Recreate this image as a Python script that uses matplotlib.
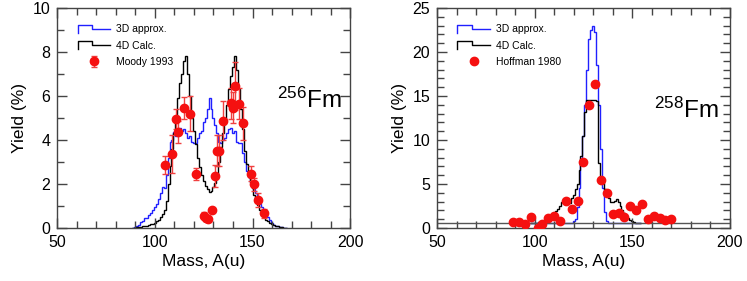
import numpy as np
import matplotlib
matplotlib.use("Agg")
import matplotlib.pyplot as plt
from matplotlib.legend_handler import HandlerBase
from matplotlib.lines import Line2D
from matplotlib.ticker import MultipleLocator

plt.rcParams['font.family'] = ['Liberation Sans', 'DejaVu Sans']
plt.rcParams['mathtext.default'] = 'regular'

# ---- 256Fm : mass bins 89..167 ----
a_256 = list(range(89, 168))
calc3d_256 = [0.0, 0.05, 0.1, 0.15, 0.28, 0.3, 0.44, 0.45, 0.6, 0.68,
              0.8, 0.95, 1.1, 1.3, 1.6, 1.85, 1.8, 2.4, 3.2, 3.9,
              4.0, 4.35, 4.2, 4.5, 4.55, 4.4, 4.5, 4.3, 4.1, 4.2,
              3.9, 3.85, 3.85, 4.1, 4.3, 4.4, 4.8, 5.0, 5.4, 5.9,
              5.4, 5.0, 4.7, 4.3, 3.9, 3.85, 4.0, 4.1, 4.3, 4.5,
              4.55, 4.3, 4.4, 3.9, 3.85, 3.85, 3.4, 3.0, 2.6, 2.3,
              2.1, 1.9, 1.75, 1.6, 1.4, 1.1, 0.95, 0.75, 0.6, 0.5,
              0.35, 0.25, 0.15, 0.1, 0.08, 0.05, 0.03, 0.02, 0.0]
calc4d_256 = [0.0, 0.02, 0.03, 0.04, 0.05, 0.07, 0.09, 0.11, 0.14, 0.17,
              0.2, 0.24, 0.3, 0.38, 0.48, 0.62, 0.82, 1.25, 2.0, 2.8,
              3.6, 4.3, 5.0, 5.9, 6.6, 7.0, 7.6, 7.8, 7.0, 6.0,
              5.0, 4.4, 3.8, 3.2, 2.75, 2.4, 2.15, 1.9, 1.75, 1.65,
              1.7, 1.85, 2.05, 2.4, 3.0, 3.7, 4.3, 4.9, 5.6, 6.3,
              6.9, 7.3, 7.8, 7.2, 6.3, 5.4, 4.5, 3.5, 2.9, 2.5,
              2.1, 1.8, 1.5, 1.25, 1.05, 0.8, 0.6, 0.48, 0.38, 0.3,
              0.24, 0.18, 0.14, 0.1, 0.07, 0.05, 0.03, 0.02, 0.01]

moody_a = [105, 109, 111, 112, 115, 118, 121, 125, 126, 127, 129, 131,
           132, 133, 135, 139, 140, 141, 143, 145, 149, 151, 153, 156]
moody_y = [2.86, 3.35, 4.94, 4.35, 5.44, 5.2, 2.47, 0.56, 0.44, 0.4, 0.82, 2.38,
           3.52, 3.52, 4.88, 5.67, 5.47, 6.45, 5.65, 4.76, 2.47, 1.98, 1.27, 0.67]
moody_err = [0.4, 0.87, 0.45, 0.5, 0.5, 0.8, 0.27, 0.15, 0.1, 0.1, 0.05, 0.5,
             0.7, 0.7, 0.9, 0.7, 0.7, 1.1, 0.7, 0.75, 0.35, 0.3, 0.3, 0.2]

# ---- 258Fm : mass bins 98..154 ----
a_258 = list(range(98, 155))
floor_258 = 0.6
calc3d_258 = [0.6] * 22 + [0.8, 1.0, 2.4, 4.5, 7.5, 10.5, 14.0, 18.0, 21.5,
                           22.5, 23.0, 22.3, 18.5, 14.0, 9.0, 4.5, 1.8, 0.8] + [0.6] * 17
calc4d_258 = [0.6, 0.6, 0.6, 0.62, 0.65, 0.7, 0.75, 0.85, 0.95, 1.1,
              1.3, 1.5, 1.7, 1.9, 2.2, 2.5, 2.9, 3.2, 3.3, 2.9,
              2.8, 3.4, 3.8, 4.4, 5.0, 6.6, 8.2, 10.5, 13.2, 14.5,
              14.6, 14.5, 14.6, 14.5, 14.4, 7.4, 5.4, 5.1, 4.4, 3.8,
              3.4, 3.0, 2.9, 3.1, 3.3, 2.9, 2.5, 2.1, 1.7, 1.4,
              1.1, 0.9, 0.75, 0.65, 0.6, 0.6, 0.6]

hoffman_a = [89, 92, 95, 98, 101.5, 104, 107, 110, 113, 116, 119, 122, 125, 128,
             131, 134, 137, 140, 143, 146, 149, 152, 155, 158, 161, 164, 167, 170]
hoffman_y = [0.72, 0.65, 0.4, 1.28, 0.05, 0.47, 1.17, 1.38, 0.74, 3.07, 2.12, 3.1, 7.5, 14.0,
             16.4, 5.45, 4.0, 1.63, 1.67, 1.2, 2.5, 2.08, 2.7, 0.98, 1.36, 1.08, 0.9, 1.0]

BLUE = '#2020ff'
RED = '#f51010'


class StepHandler(HandlerBase):
    # ROOT-like histogram legend glyph
    def create_artists(self, legend, orig_handle, xdescent, ydescent,
                       width, height, fontsize, trans):
        xs = np.array([0, 0, 0.45, 0.45, 1.0]) * width - xdescent
        ys = np.array([-0.1, 1.0, 1.0, 0.45, 0.45]) * height - ydescent
        ln = Line2D(xs, ys, color=orig_handle.get_color(),
                    lw=orig_handle.get_linewidth())
        ln.set_transform(trans)
        return [ln]


def edges(masses):
    m = np.asarray(masses, dtype=float)
    return np.append(m - 0.5, m[-1] + 0.5)


def style_axes(ax, ymax, ymajor, yminor):
    ax.set_xlim(50, 200)
    ax.set_ylim(0, ymax)
    ax.xaxis.set_major_locator(MultipleLocator(50))
    ax.xaxis.set_minor_locator(MultipleLocator(10))
    ax.yaxis.set_major_locator(MultipleLocator(ymajor))
    ax.yaxis.set_minor_locator(MultipleLocator(yminor))
    ax.tick_params(which='both', direction='in', top=True, right=True,
                   color='#444444', labelsize=11.5)
    ax.tick_params(which='major', length=7, width=1, pad=5)
    ax.tick_params(which='minor', length=5, width=1)
    for sp in ax.spines.values():
        sp.set_color('#444444')
        sp.set_linewidth(1)
    ax.set_xlabel('Mass, A(u)', fontsize=12.5, labelpad=3)
    ax.set_ylabel('Yield (%)', fontsize=12.5, labelpad=4)


fig = plt.figure(figsize=(7.47, 2.81), dpi=100)
ax1 = fig.add_axes([0.0767, 0.1886, 0.392, 0.783])
ax2 = fig.add_axes([0.585, 0.1886, 0.392, 0.783])

# left: 256Fm
ax1.stairs(calc3d_256, edges(a_256), color=BLUE, lw=1)
ax1.stairs(calc4d_256, edges(a_256), color='black', lw=1)
ax1.errorbar(moody_a, moody_y, yerr=moody_err, fmt='o', color=RED, ms=6,
             ecolor='#f04040', elinewidth=1, capsize=2.2, capthick=1, zorder=5)
style_axes(ax1, 10, 2, 1)
ax1.text(0.972, 0.544, r'$^{256}$Fm', transform=ax1.transAxes,
         ha='right', va='baseline', fontsize=17.5)
h1 = [Line2D([], [], color=BLUE, lw=1), Line2D([], [], color='black', lw=1),
      ax1.containers[0]]
ax1.legend(h1, ['3D approx.', '4D Calc.', 'Moody 1993'],
           handler_map={Line2D: StepHandler()}, loc='upper left',
           bbox_to_anchor=(0.045, 0.96), frameon=False, fontsize=7.5,
           handlelength=3.1, handletextpad=0.6, labelspacing=0.62,
           borderpad=0.2)

# right: 258Fm
ax2.axhline(floor_258, color='#555555', lw=1)
ax2.stairs(calc3d_258, edges(a_258), color=BLUE, lw=1, baseline=None)
ax2.stairs(calc4d_258, edges(a_258), color='black', lw=1, baseline=None)
ax2.plot(hoffman_a, hoffman_y, 'o', color=RED, ms=6, zorder=5)
style_axes(ax2, 25, 5, 1)
ax2.text(0.96, 0.499, r'$^{258}$Fm', transform=ax2.transAxes,
         ha='right', va='baseline', fontsize=17.5)
h2 = [Line2D([], [], color=BLUE, lw=1), Line2D([], [], color='black', lw=1),
      Line2D([], [], ls='none', marker='o', color=RED, ms=6)]
ax2.legend(h2, ['3D approx.', '4D Calc.', 'Hoffman 1980'],
           handler_map={h2[0]: StepHandler(), h2[1]: StepHandler()},
           loc='upper left', bbox_to_anchor=(0.045, 0.96), frameon=False,
           fontsize=7.5, handlelength=3.1, handletextpad=0.6, labelspacing=0.62,
           borderpad=0.2)

fig.savefig('out.png', dpi=100)
